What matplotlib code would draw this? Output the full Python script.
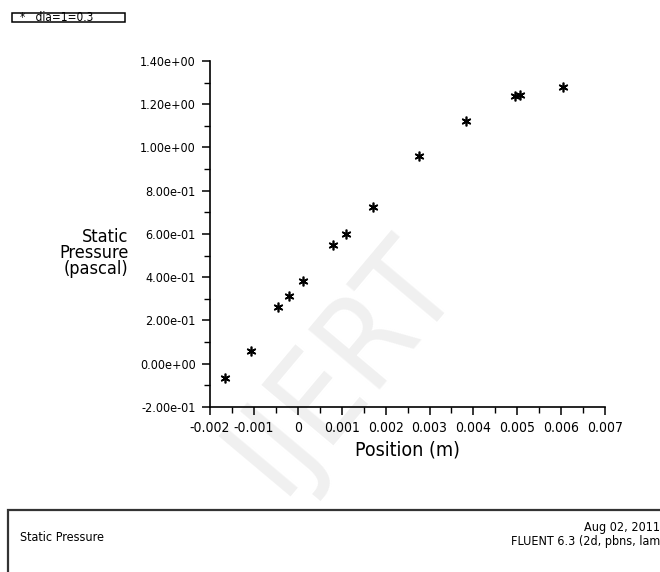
import matplotlib
matplotlib.use("Agg")
import matplotlib.pyplot as plt
from matplotlib.ticker import FixedLocator, MultipleLocator
from matplotlib.patches import Rectangle

# Static pressure along the line (position in m, pressure in pascal)
position_m = [-0.00166, -0.00107, -0.00046, -0.00021, 0.00013, 0.00081,
              0.00111, 0.00172, 0.00276, 0.00383, 0.00494, 0.00505, 0.00603]
pressure_pa = [-0.066, 0.059, 0.263, 0.314, 0.383, 0.550,
               0.600, 0.726, 0.962, 1.124, 1.240, 1.244, 1.280]

x_ticks = [-0.002, -0.001, 0, 0.001, 0.002, 0.003, 0.004, 0.005, 0.006, 0.007]
x_tick_labels = ["-0.002", "-0.001", "0", "0.001", "0.002", "0.003",
                 "0.004", "0.005", "0.006", "0.007"]
y_ticks = [-0.2, 0.0, 0.2, 0.4, 0.6, 0.8, 1.0, 1.2, 1.4]
y_tick_labels = ["-2.00e-01", "0.00e+00", "2.00e-01", "4.00e-01", "6.00e-01",
                 "8.00e-01", "1.00e+00", "1.20e+00", "1.40e+00"]

plt.rcParams["font.family"] = ["DejaVu Sans"]
plt.rcParams["font.stretch"] = "condensed"

fig = plt.figure(figsize=(6.6, 5.72), dpi=100)
ax = fig.add_axes([0.318, 0.2885, 0.599, 0.6049])
ax.set_zorder(2)

# faint diagonal watermark behind the data
fig.text(0.52, 0.36, "IJERT", fontsize=92, color="#f0f0f0", rotation=50,
         ha="center", va="center", zorder=-5)

ax.patch.set_alpha(0)
ax.plot(position_m, pressure_pa, linestyle="none", marker=(6, 2, 0),
        markersize=7, markeredgewidth=1.2, color="black")

ax.set_xlim(-0.002, 0.007)
ax.set_ylim(-0.2, 1.4)
ax.xaxis.set_major_locator(FixedLocator(x_ticks))
ax.set_xticklabels(x_tick_labels)
ax.yaxis.set_major_locator(FixedLocator(y_ticks))
ax.set_yticklabels(y_tick_labels)
ax.xaxis.set_minor_locator(MultipleLocator(0.0005))
ax.yaxis.set_minor_locator(MultipleLocator(0.1))

for side in ("top", "right"):
    ax.spines[side].set_visible(False)
for side in ("left", "bottom"):
    ax.spines[side].set_linewidth(1.2)

ax.tick_params(which="major", direction="out", length=6, width=1.1, pad=4)
ax.tick_params(which="minor", direction="out", length=4, width=1.0)
ax.tick_params(axis="x", labelsize=10)
ax.tick_params(axis="y", labelsize=9)

ax.set_xlabel("Position (m)", fontsize=14, labelpad=4)
fig.text(0.195, 0.558, "Static\nPressure\n(pascal)", fontsize=13,
         ha="right", va="center", linespacing=0.85)

# legend box at the top left
fig.patches.append(Rectangle((0.018, 0.9615), 0.171, 0.016, transform=fig.transFigure,
                             fill=False, edgecolor="black", linewidth=1.1))
fig.text(0.03, 0.9695, "*   dia=1=0.3", fontsize=8.5, ha="left", va="center")

# title block at the bottom
fig.patches.append(Rectangle((0.012, -0.05), 1.1, 0.158, transform=fig.transFigure,
                             fill=False, edgecolor="#333333", linewidth=1.6))
fig.text(0.03, 0.061, "Static Pressure", fontsize=9, ha="left", va="center")
fig.text(1.0, 0.077, "Aug 02, 2011", fontsize=9, ha="right", va="center")
fig.text(1.0, 0.054, "FLUENT 6.3 (2d, pbns, lam", fontsize=9, ha="right", va="center")

fig.savefig("out.png", dpi=100)
